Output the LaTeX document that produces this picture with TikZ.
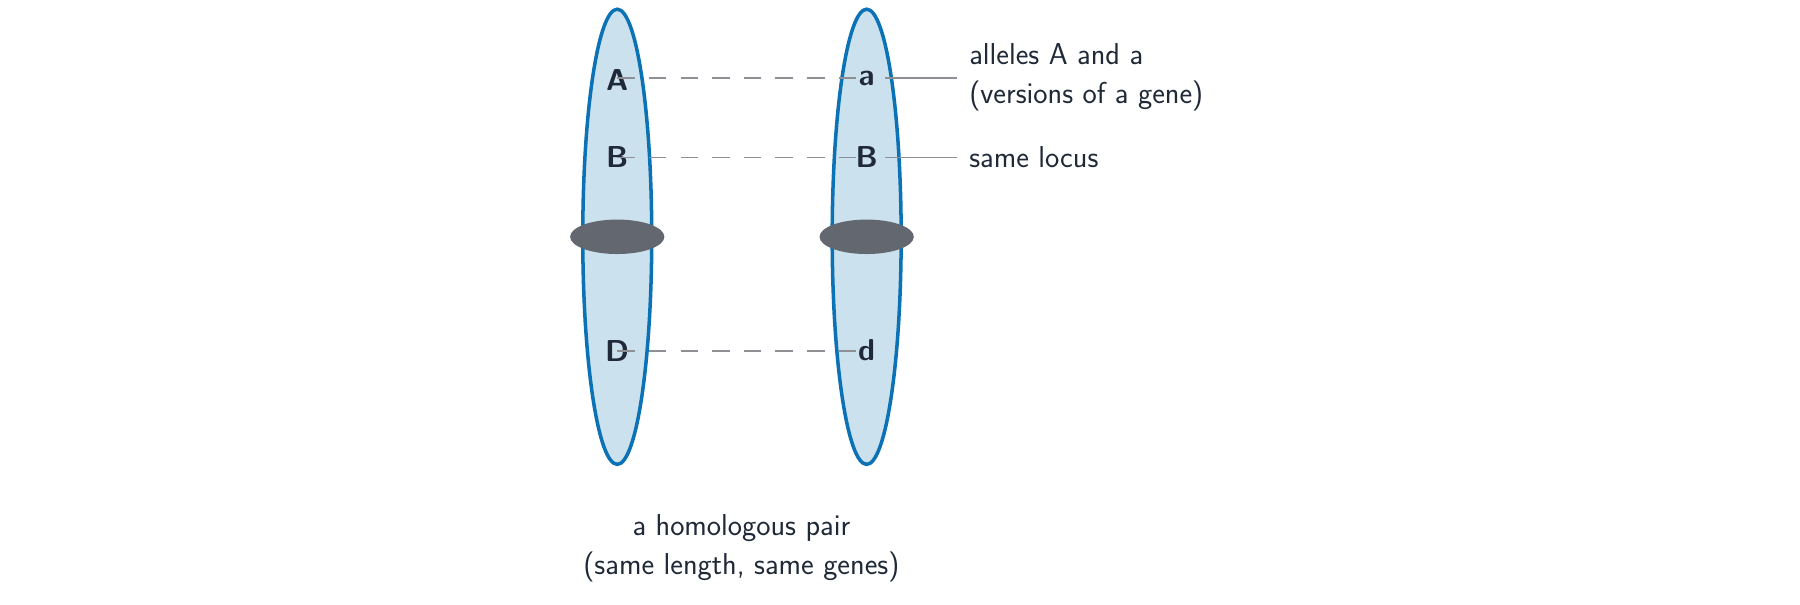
\documentclass[tikz,border=0pt]{standalone}
\usetikzlibrary{positioning}
\definecolor{chromblue}{HTML}{0B72B5}
\definecolor{chromfill}{HTML}{CCE1EE}
\definecolor{centrogray}{HTML}{636870}
\definecolor{textdark}{HTML}{1F2937}
\definecolor{linkgray}{HTML}{8E9096}
\tikzset{
  chrom/.style={draw=chromblue, fill=chromfill, line width=2pt},
  centro/.style={fill=centrogray},
  gene/.style={text=textdark, font=\sffamily\bfseries\fontsize{17.2}{20}\selectfont, inner sep=0pt},
  label/.style={text=textdark, font=\sffamily\fontsize{17.2}{22}\selectfont, inner sep=0pt},
  link/.style={linkgray, line width=1.1pt, dash pattern=on 10pt off 8pt},
  pointer/.style={linkgray, line width=1.1pt}
}
\begin{document}
\begin{tikzpicture}[x=0.02298cm, y=-0.02298cm]
			\useasboundingbox (0,0) rectangle (1566,525.6);
			% chromosomes
			\foreach \x in {537, 754} {
				\draw[chrom] (\x,206) ellipse [x radius=30, y radius=198];
				\fill[centro] (\x,206) ellipse [x radius=41, y radius=15];
			}
			% genes
			\node[gene] (A1) at (537,70) {A};
			\node[gene] (B1) at (537,137) {B};
			\node[gene] (D1) at (537,305) {D};
			\node[gene] (a2) at (754,68) {a};
			\node[gene] (B2) at (754,137) {B};
			\node[gene] (d2) at (754,305) {d};
			% labels
			\node[label, anchor=west, align=left] (alleles) at (843,67) {alleles A and a\\(versions of a gene)};
			\node[label, anchor=west] (locus) at (843,137) {same locus};
			\node[label, align=center] (pair) at (645,477) {a homologous pair\\(same length, same genes)};
			% links
			\draw[link] (A1.center |- a2.center) -- (a2.center);
			\draw[link] (B1.center) -- (B2.center);
			\draw[link] (D1.center) -- (d2.center);
			\coordinate (aR) at (770,68);
			\coordinate (BR) at (770,137);
			\draw[pointer] (aR) -- ([xshift=-0.23cm]aR -| alleles.west);
			\draw[pointer] (BR) -- ([xshift=-0.23cm]locus.west);
\end{tikzpicture}
\end{document}
